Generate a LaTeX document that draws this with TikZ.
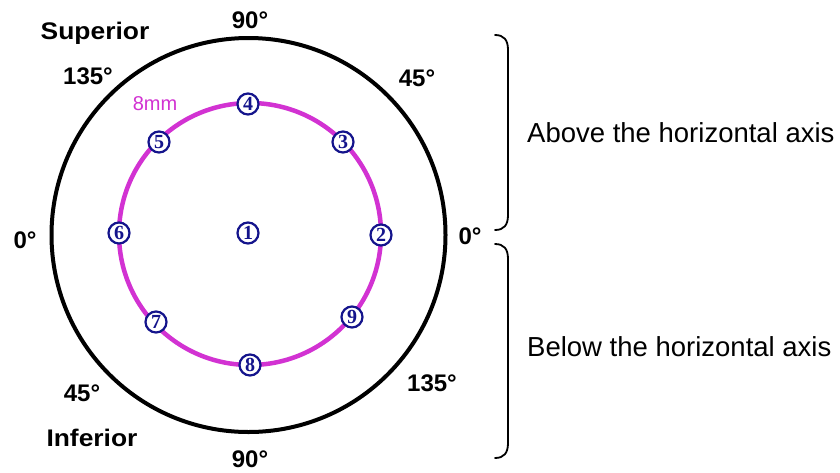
\documentclass[tikz,border=0pt]{standalone}
\usepackage{fontspec}
\setmainfont{Liberation Sans}
\newfontfamily\numfont{Liberation Serif}
\definecolor{navy}{RGB}{20,20,140}
\definecolor{pinkline}{RGB}{210,50,210}
\begin{document}
\begin{tikzpicture}[x=1pt,y=-1pt,
  deglabel/.style={font=\fontsize{24}{26}\selectfont\bfseries, inner sep=0pt},
  sidelabel/.style={font=\fontsize{24}{28}\selectfont\bfseries, inner sep=0pt},
  numdot/.style={circle, draw=navy, line width=2.2pt, fill=white, inner sep=0pt,
    minimum size=21pt, text=navy, font=\numfont\bfseries\fontsize{20}{20}\selectfont},
  axistext/.style={font=\fontsize{27.5}{32}\selectfont, anchor=west, inner sep=0pt},
  bracestyle/.style={line width=1.8pt, line cap=round}]
\useasboundingbox (0,0) rectangle (840,472);
\fill[white] (0,0) rectangle (840,472);
% outer circle
\coordinate (c) at (248.5,235);
\draw[line width=4pt] (c) circle[radius=197];
% inner magenta circle
\coordinate (ci) at (250,234);
\draw[pinkline, line width=4.5pt] (ci) circle[radius=131];
\node[text=pinkline, font=\fontsize{20}{22}\selectfont, inner sep=0pt] (mm) at (155,104) {8mm};
% numbered points
\node[numdot] (n1) at (248,233) {1};
\node[numdot] (n2) at (381,235) {2};
\node[numdot] (n3) at (343,142) {3};
\node[numdot] (n4) at (248,104) {4};
\node[numdot] (n5) at (159,142) {5};
\node[numdot] (n6) at (119,233) {6};
\node[numdot] (n7) at (156,322) {7};
\node[numdot] (n8) at (250,365) {8};
\node[numdot] (n9) at (352,317) {9};
% degree labels
\node[deglabel] (d90t) at (250,20) {90°};
\node[deglabel] (d135l) at (88,76) {135°};
\node[deglabel] (d45r) at (417,78) {45°};
\node[deglabel] (d0l) at (25,240) {0°};
\node[deglabel] (d0r) at (470,236) {0°};
\node[deglabel] (d45l) at (82,393) {45°};
\node[deglabel] (d135r) at (432,383) {135°};
\node[deglabel] (d90b) at (250,459) {90°};
\node[sidelabel, xscale=1.1] (sup) at (95,33) {Superior};
\node[sidelabel, xscale=1.1] (inf) at (92,438) {Inferior};
% braces
\draw[bracestyle] (495,35) .. controls (504,35) and (508,40) .. (508,50)
  -- (508,215) .. controls (508,225) and (504,230) .. (495,230);
\draw[bracestyle] (495,244) .. controls (504,244) and (508,249) .. (508,259)
  -- (508,443) .. controls (508,453) and (504,458) .. (495,458);
\node[axistext] (above) at (527,133) {Above the horizontal axis};
\node[axistext] (below) at (527,347) {Below the horizontal axis};
\end{tikzpicture}
\end{document}
